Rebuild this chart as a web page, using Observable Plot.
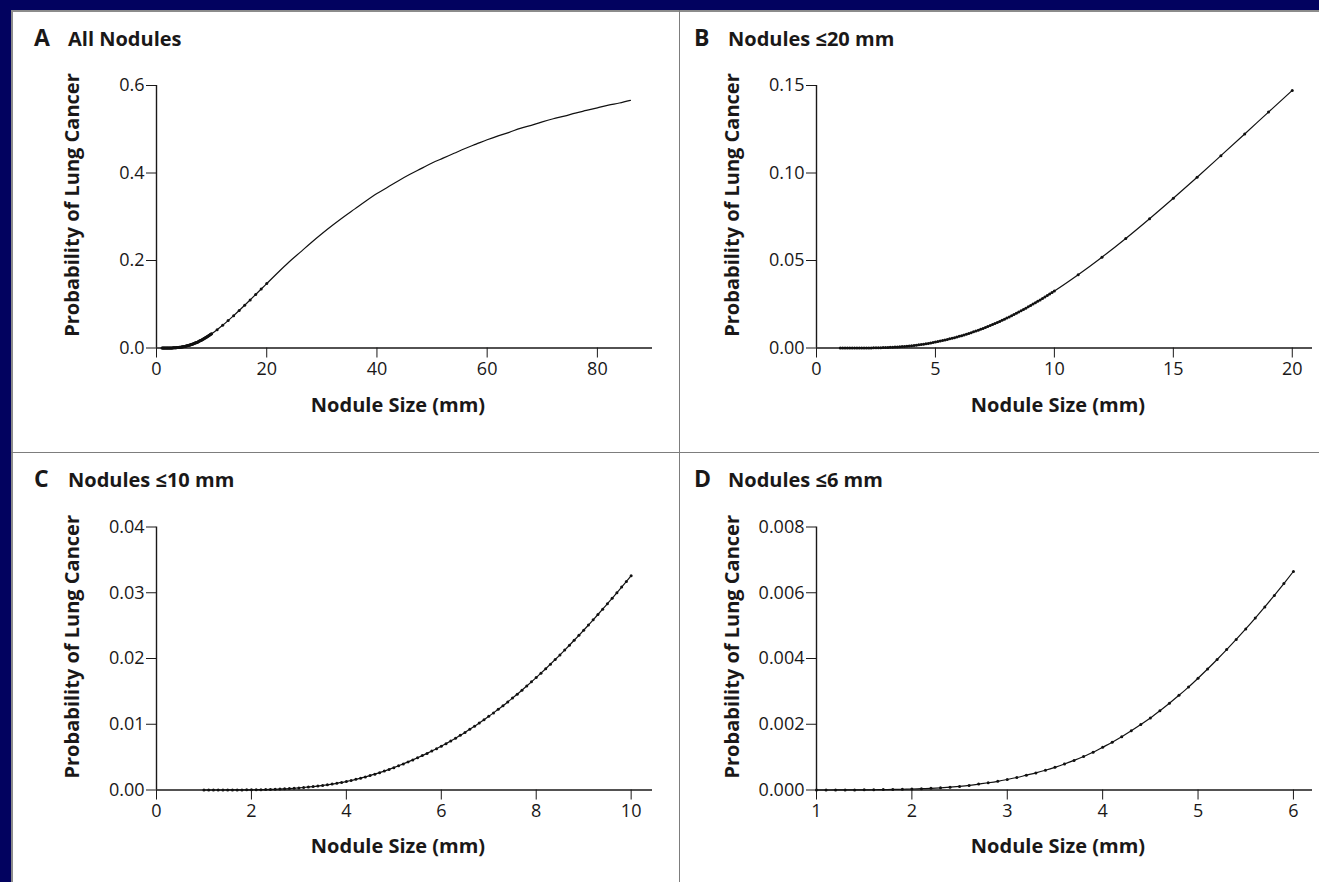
<!DOCTYPE html>
<html>
<head>
<meta charset="utf-8">
<script src="https://cdn.jsdelivr.net/npm/d3@7"></script>
<script src="https://cdn.jsdelivr.net/npm/@observablehq/plot@0.6"></script>
<style>
html, body { margin: 0; padding: 0; }
body { width: 1319px; height: 882px; background: #02025f; position: relative; overflow: hidden; font-family: "Open Sans", sans-serif; }
#sheet { position: absolute; left: 11px; top: 10px; width: 1308px; height: 872px; background: #ffffff; border-top: 2px solid #8c8c8c; border-left: 2px solid #8c8c8c; box-sizing: border-box; }
#vline { position: absolute; left: 678.5px; top: 10px; width: 1.6px; height: 872px; background: #7d7d7d; }
#hline { position: absolute; left: 11px; top: 451.5px; width: 1308px; height: 1.8px; background: #7d7d7d; }
svg.overlay { position: absolute; left: 0; top: 0; pointer-events: none; }
</style>
</head>
<body>
<div id="sheet"></div>
<div id="vline"></div>
<div id="hline"></div>
<script>
// ---- Data ----
// Nodule sizes 1.0–10.0 mm in 0.1 mm steps
const fineSizes = [1.0,1.1,1.2,1.3,1.4,1.5,1.6,1.7,1.8,1.9,
  2.0,2.1,2.2,2.3,2.4,2.5,2.6,2.7,2.8,2.9,
  3.0,3.1,3.2,3.3,3.4,3.5,3.6,3.7,3.8,3.9,
  4.0,4.1,4.2,4.3,4.4,4.5,4.6,4.7,4.8,4.9,
  5.0,5.1,5.2,5.3,5.4,5.5,5.6,5.7,5.8,5.9,
  6.0,6.1,6.2,6.3,6.4,6.5,6.6,6.7,6.8,6.9,
  7.0,7.1,7.2,7.3,7.4,7.5,7.6,7.7,7.8,7.9,
  8.0,8.1,8.2,8.3,8.4,8.5,8.6,8.7,8.8,8.9,
  9.0,9.1,9.2,9.3,9.4,9.5,9.6,9.7,9.8,9.9,10.0];
const fineProb = [0.0000002,0.0000005,0.000001,0.000002,0.000003,0.000005,0.000008,0.000012,0.000017,0.000023,
  0.00003,0.00004,0.00005,0.000065,0.000085,0.00011,0.00014,0.00018,0.00022,0.000265,
  0.00032,0.00038,0.00045,0.00052,0.0006,0.00069,0.00079,0.0009,0.00102,0.00115,
  0.0013,0.00145,0.00162,0.0018,0.00199,0.00219,0.00241,0.00264,0.00288,0.00313,
  0.0034,0.00368,0.00397,0.00427,0.00458,0.0049,0.00523,0.00557,0.00592,0.00628,
  0.00665,0.00705,0.00746,0.00788,0.00831,0.00876,0.00923,0.0097,0.01019,0.01069,
  0.0112,0.01173,0.01227,0.01282,0.01339,0.01398,0.01457,0.01518,0.01581,0.01645,
  0.0171,0.01777,0.01845,0.01914,0.01984,0.02055,0.02128,0.02202,0.02277,0.02353,
  0.0243,0.02509,0.02588,0.02669,0.0275,0.02833,0.02916,0.03001,0.03086,0.03173,0.0326];
// Nodule sizes 11–20 mm in 1 mm steps
const coarseSizes = [11,12,13,14,15,16,17,18,19,20];
const coarseProb = [0.0419,0.0519,0.0626,0.0739,0.0856,0.0976,0.1099,0.1223,0.1348,0.1472];
// Larger nodules (panel A only)
const largeSizes = [22,24,26,28,30,32,34,36,38,40,42,44,46,48,50,52,54,56,58,60,62,64,66,68,70,72,74,76,78,80,82,84,86];
const largeProb = [0.172,0.196,0.218,0.240,0.261,0.281,0.300,0.318,0.336,0.353,0.368,0.383,0.397,0.410,0.423,0.434,0.445,0.456,0.466,0.476,0.485,0.493,0.502,0.509,0.517,0.524,0.530,0.537,0.543,0.549,0.555,0.560,0.566];

// Panel definitions
const panelLetters = ["A", "B", "C", "D"];
const panelTitles = ["All Nodules", "Nodules \u226420 mm", "Nodules \u226410 mm", "Nodules \u22646 mm"];
const maxSizes = [86, 20, 10, 6];
const xDomains = [[0, 90], [0, 20.85], [0, 10.45], [1, 6.2]];
const yDomains = [[0, 0.6], [0, 0.15], [0, 0.04], [0, 0.008]];
const xTickValues = [[0, 20, 40, 60, 80], [0, 5, 10, 15, 20], [0, 2, 4, 6, 8, 10], [1, 2, 3, 4, 5, 6]];
const yTickValues = [[0, 0.2, 0.4, 0.6], [0, 0.05, 0.10, 0.15], [0, 0.01, 0.02, 0.03, 0.04], [0, 0.002, 0.004, 0.006, 0.008]];
const yTickFormats = [".1f", ".2f", ".2f", ".3f"];
const xAxisTitle = "Nodule Size (mm)";
const yAxisTitle = "Probability of Lung Cancer";

// ---- Build table ----
const rows = [];
fineSizes.forEach((s, i) => rows.push({size: s, p: fineProb[i], dot: true}));
coarseSizes.forEach((s, i) => rows.push({size: s, p: coarseProb[i], dot: true}));
largeSizes.forEach((s, i) => rows.push({size: s, p: largeProb[i], dot: false}));

const ink = "#1a1818";

panelLetters.forEach((letter, i) => {
  const col = i % 2, row = Math.floor(i / 2);
  const data = rows.filter(d => d.size <= maxSizes[i] + 1e-9);
  const chart = Plot.plot({
    width: col ? 659 : 680,
    height: row ? 430 : 452,
    marginLeft: 156,
    marginRight: col ? 7 : 28,
    marginTop: row ? 74.5 : 85,
    marginBottom: row ? 92.5 : 104.5,
    style: {background: "transparent", fontFamily: "'Open Sans', sans-serif", fontSize: "18px", color: ink, overflow: "visible"},
    x: {domain: xDomains[i], ticks: xTickValues[i], tickFormat: d3.format("d"), tickSize: 10, tickPadding: 4, label: null},
    y: {domain: yDomains[i], ticks: yTickValues[i], tickFormat: d3.format(yTickFormats[i]), tickSize: 10, tickPadding: 2, label: null},
    marks: [
      Plot.ruleY([yDomains[i][0]], {stroke: ink, strokeWidth: 1.4}),
      Plot.ruleX([xDomains[i][0]], {stroke: ink, strokeWidth: 1.4}),
      Plot.line(data, {x: "size", y: "p", stroke: "#111", strokeWidth: 1.2, curve: "monotone-x"}),
      Plot.dot(data.filter(d => d.dot), {x: "size", y: "p", r: 1.5, fill: "#111", stroke: "none"})
    ]
  });
  chart.style.position = "absolute";
  chart.style.left = (col ? 660 : 0) + "px";
  chart.style.top = (row ? 452 : 0) + "px";
  chart.style.maxWidth = "none";
  document.body.appendChild(chart);
});

// ---- Titles overlay ----
const svg = d3.select("body").append("svg")
  .attr("class", "overlay")
  .attr("width", 1319).attr("height", 882)
  .style("font-family", "'Open Sans', sans-serif")
  .style("fill", ink);

panelLetters.forEach((letter, i) => {
  const col = i % 2, row = Math.floor(i / 2);
  const ox = col * 660, oy = row * 441.75;
  svg.append("text").attr("x", 34 + ox).attr("y", 45.5 + oy)
    .attr("font-size", 23).attr("font-weight", 700).text(letter);
  svg.append("text").attr("x", 68 + ox).attr("y", 45.5 + oy)
    .attr("font-size", 20).attr("font-weight", 700).text(panelTitles[i]);
  svg.append("text").attr("x", 398 + ox).attr("y", 411.5 + oy)
    .attr("text-anchor", "middle").attr("font-size", 20).attr("font-weight", 700).text(xAxisTitle);
  svg.append("text")
    .attr("transform", `translate(${79 + ox},${205 + oy}) rotate(-90)`)
    .attr("text-anchor", "middle").attr("font-size", 20).attr("font-weight", 700).text(yAxisTitle);
});
</script>
</body>
</html>
